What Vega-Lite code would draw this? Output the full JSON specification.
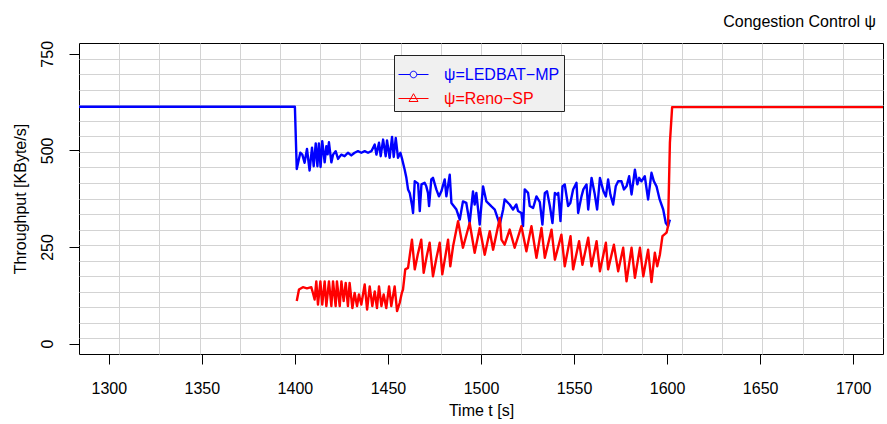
{
  "$schema": "https://vega.github.io/schema/vega-lite/v6.json",
  "width": 804,
  "height": 311,
  "autosize": {"type": "none"},
  "padding": {"left": 79, "top": 43, "right": 4, "bottom": 70},
  "background": "white",
  "config": {
    "view": {"stroke": "black", "strokeWidth": 1},
    "font": "Liberation Sans"
  },
  "title": {"text": "Congestion Control ψ", "anchor": "end", "orient": "top", "offset": -3, "dx": -7, "baseline": "alphabetic", "fontSize": 16, "fontWeight": "normal", "font": "Liberation Sans", "color": "black", "frame": "group"},
  "data": {"values": [
    {"t":1284,"v":613,"s":"ψ=LEDBAT−MP"},{"t":1400,"v":613,"s":"ψ=LEDBAT−MP"},{"t":1401,"v":452,"s":"ψ=LEDBAT−MP"},{"t":1402.9,"v":494,"s":"ψ=LEDBAT−MP"},{"t":1404,"v":489,"s":"ψ=LEDBAT−MP"},{"t":1405.2,"v":468,"s":"ψ=LEDBAT−MP"},{"t":1406.5,"v":504,"s":"ψ=LEDBAT−MP"},{"t":1407.9,"v":448,"s":"ψ=LEDBAT−MP"},{"t":1409.2,"v":507,"s":"ψ=LEDBAT−MP"},{"t":1410.1,"v":459,"s":"ψ=LEDBAT−MP"},{"t":1411.2,"v":518,"s":"ψ=LEDBAT−MP"},{"t":1412.1,"v":459,"s":"ψ=LEDBAT−MP"},{"t":1412.9,"v":518,"s":"ψ=LEDBAT−MP"},{"t":1413.8,"v":457,"s":"ψ=LEDBAT−MP"},{"t":1414.7,"v":524,"s":"ψ=LEDBAT−MP"},{"t":1416,"v":469,"s":"ψ=LEDBAT−MP"},{"t":1416.9,"v":511,"s":"ψ=LEDBAT−MP"},{"t":1417.6,"v":490,"s":"ψ=LEDBAT−MP"},{"t":1418.3,"v":521,"s":"ψ=LEDBAT−MP"},{"t":1419.6,"v":469,"s":"ψ=LEDBAT−MP"},{"t":1420.5,"v":489,"s":"ψ=LEDBAT−MP"},{"t":1421.9,"v":498,"s":"ψ=LEDBAT−MP"},{"t":1423.2,"v":478,"s":"ψ=LEDBAT−MP"},{"t":1424.9,"v":489,"s":"ψ=LEDBAT−MP"},{"t":1426.7,"v":485,"s":"ψ=LEDBAT−MP"},{"t":1428.5,"v":494,"s":"ψ=LEDBAT−MP"},{"t":1430.3,"v":487,"s":"ψ=LEDBAT−MP"},{"t":1432.1,"v":494,"s":"ψ=LEDBAT−MP"},{"t":1433.9,"v":498,"s":"ψ=LEDBAT−MP"},{"t":1435.7,"v":494,"s":"ψ=LEDBAT−MP"},{"t":1437.5,"v":498,"s":"ψ=LEDBAT−MP"},{"t":1439.3,"v":494,"s":"ψ=LEDBAT−MP"},{"t":1441.1,"v":498,"s":"ψ=LEDBAT−MP"},{"t":1442.9,"v":515,"s":"ψ=LEDBAT−MP"},{"t":1443.8,"v":489,"s":"ψ=LEDBAT−MP"},{"t":1445.2,"v":520,"s":"ψ=LEDBAT−MP"},{"t":1446.1,"v":485,"s":"ψ=LEDBAT−MP"},{"t":1447.4,"v":528,"s":"ψ=LEDBAT−MP"},{"t":1448.8,"v":485,"s":"ψ=LEDBAT−MP"},{"t":1449.5,"v":526,"s":"ψ=LEDBAT−MP"},{"t":1450.9,"v":481,"s":"ψ=LEDBAT−MP"},{"t":1452.2,"v":535,"s":"ψ=LEDBAT−MP"},{"t":1453.1,"v":483,"s":"ψ=LEDBAT−MP"},{"t":1454.2,"v":532,"s":"ψ=LEDBAT−MP"},{"t":1455.4,"v":481,"s":"ψ=LEDBAT−MP"},{"t":1456.7,"v":494,"s":"ψ=LEDBAT−MP"},{"t":1457.7,"v":476,"s":"ψ=LEDBAT−MP"},{"t":1459,"v":450,"s":"ψ=LEDBAT−MP"},{"t":1459.9,"v":429,"s":"ψ=LEDBAT−MP"},{"t":1460.8,"v":399,"s":"ψ=LEDBAT−MP"},{"t":1461.7,"v":390,"s":"ψ=LEDBAT−MP"},{"t":1463,"v":356,"s":"ψ=LEDBAT−MP"},{"t":1463.5,"v":338,"s":"ψ=LEDBAT−MP"},{"t":1464.4,"v":420,"s":"ψ=LEDBAT−MP"},{"t":1466.2,"v":414,"s":"ψ=LEDBAT−MP"},{"t":1467.1,"v":343,"s":"ψ=LEDBAT−MP"},{"t":1468,"v":412,"s":"ψ=LEDBAT−MP"},{"t":1469.7,"v":416,"s":"ψ=LEDBAT−MP"},{"t":1470.6,"v":407,"s":"ψ=LEDBAT−MP"},{"t":1471.5,"v":390,"s":"ψ=LEDBAT−MP"},{"t":1472.1,"v":356,"s":"ψ=LEDBAT−MP"},{"t":1473.3,"v":425,"s":"ψ=LEDBAT−MP"},{"t":1474.2,"v":429,"s":"ψ=LEDBAT−MP"},{"t":1476,"v":399,"s":"ψ=LEDBAT−MP"},{"t":1477.4,"v":381,"s":"ψ=LEDBAT−MP"},{"t":1478.7,"v":394,"s":"ψ=LEDBAT−MP"},{"t":1480.5,"v":425,"s":"ψ=LEDBAT−MP"},{"t":1481.4,"v":381,"s":"ψ=LEDBAT−MP"},{"t":1483.2,"v":437,"s":"ψ=LEDBAT−MP"},{"t":1484.1,"v":364,"s":"ψ=LEDBAT−MP"},{"t":1486.8,"v":347,"s":"ψ=LEDBAT−MP"},{"t":1488.6,"v":321,"s":"ψ=LEDBAT−MP"},{"t":1490.3,"v":368,"s":"ψ=LEDBAT−MP"},{"t":1492.1,"v":364,"s":"ψ=LEDBAT−MP"},{"t":1493.9,"v":312,"s":"ψ=LEDBAT−MP"},{"t":1495.7,"v":394,"s":"ψ=LEDBAT−MP"},{"t":1496.6,"v":360,"s":"ψ=LEDBAT−MP"},{"t":1497.5,"v":390,"s":"ψ=LEDBAT−MP"},{"t":1499.3,"v":308,"s":"ψ=LEDBAT−MP"},{"t":1501.1,"v":407,"s":"ψ=LEDBAT−MP"},{"t":1502.9,"v":368,"s":"ψ=LEDBAT−MP"},{"t":1505.6,"v":355,"s":"ψ=LEDBAT−MP"},{"t":1507.4,"v":347,"s":"ψ=LEDBAT−MP"},{"t":1509.2,"v":321,"s":"ψ=LEDBAT−MP"},{"t":1510.1,"v":308,"s":"ψ=LEDBAT−MP"},{"t":1511.9,"v":347,"s":"ψ=LEDBAT−MP"},{"t":1512.7,"v":373,"s":"ψ=LEDBAT−MP"},{"t":1515.4,"v":360,"s":"ψ=LEDBAT−MP"},{"t":1517.2,"v":347,"s":"ψ=LEDBAT−MP"},{"t":1519,"v":360,"s":"ψ=LEDBAT−MP"},{"t":1519.9,"v":343,"s":"ψ=LEDBAT−MP"},{"t":1521.7,"v":338,"s":"ψ=LEDBAT−MP"},{"t":1522.6,"v":304,"s":"ψ=LEDBAT−MP"},{"t":1523.5,"v":399,"s":"ψ=LEDBAT−MP"},{"t":1525.3,"v":390,"s":"ψ=LEDBAT−MP"},{"t":1526.2,"v":356,"s":"ψ=LEDBAT−MP"},{"t":1528,"v":351,"s":"ψ=LEDBAT−MP"},{"t":1529.8,"v":381,"s":"ψ=LEDBAT−MP"},{"t":1531.6,"v":366,"s":"ψ=LEDBAT−MP"},{"t":1533,"v":308,"s":"ψ=LEDBAT−MP"},{"t":1534.3,"v":390,"s":"ψ=LEDBAT−MP"},{"t":1535.5,"v":394,"s":"ψ=LEDBAT−MP"},{"t":1537,"v":356,"s":"ψ=LEDBAT−MP"},{"t":1538.4,"v":312,"s":"ψ=LEDBAT−MP"},{"t":1539.7,"v":390,"s":"ψ=LEDBAT−MP"},{"t":1541,"v":385,"s":"ψ=LEDBAT−MP"},{"t":1541.5,"v":390,"s":"ψ=LEDBAT−MP"},{"t":1542.7,"v":317,"s":"ψ=LEDBAT−MP"},{"t":1543.8,"v":407,"s":"ψ=LEDBAT−MP"},{"t":1545,"v":412,"s":"ψ=LEDBAT−MP"},{"t":1546.8,"v":356,"s":"ψ=LEDBAT−MP"},{"t":1548,"v":364,"s":"ψ=LEDBAT−MP"},{"t":1549.5,"v":399,"s":"ψ=LEDBAT−MP"},{"t":1551.3,"v":416,"s":"ψ=LEDBAT−MP"},{"t":1552.2,"v":338,"s":"ψ=LEDBAT−MP"},{"t":1554,"v":381,"s":"ψ=LEDBAT−MP"},{"t":1555,"v":399,"s":"ψ=LEDBAT−MP"},{"t":1556.7,"v":412,"s":"ψ=LEDBAT−MP"},{"t":1557.6,"v":347,"s":"ψ=LEDBAT−MP"},{"t":1559.4,"v":429,"s":"ψ=LEDBAT−MP"},{"t":1561,"v":390,"s":"ψ=LEDBAT−MP"},{"t":1562.4,"v":347,"s":"ψ=LEDBAT−MP"},{"t":1563.9,"v":429,"s":"ψ=LEDBAT−MP"},{"t":1565.8,"v":394,"s":"ψ=LEDBAT−MP"},{"t":1567.1,"v":381,"s":"ψ=LEDBAT−MP"},{"t":1568.3,"v":425,"s":"ψ=LEDBAT−MP"},{"t":1569.5,"v":386,"s":"ψ=LEDBAT−MP"},{"t":1571,"v":360,"s":"ψ=LEDBAT−MP"},{"t":1572.4,"v":407,"s":"ψ=LEDBAT−MP"},{"t":1573.7,"v":420,"s":"ψ=LEDBAT−MP"},{"t":1575.5,"v":420,"s":"ψ=LEDBAT−MP"},{"t":1576.8,"v":399,"s":"ψ=LEDBAT−MP"},{"t":1578.2,"v":407,"s":"ψ=LEDBAT−MP"},{"t":1579.6,"v":433,"s":"ψ=LEDBAT−MP"},{"t":1580.9,"v":386,"s":"ψ=LEDBAT−MP"},{"t":1582.7,"v":450,"s":"ψ=LEDBAT−MP"},{"t":1584,"v":412,"s":"ψ=LEDBAT−MP"},{"t":1585,"v":429,"s":"ψ=LEDBAT−MP"},{"t":1586.2,"v":420,"s":"ψ=LEDBAT−MP"},{"t":1588,"v":433,"s":"ψ=LEDBAT−MP"},{"t":1589.8,"v":373,"s":"ψ=LEDBAT−MP"},{"t":1591.6,"v":442,"s":"ψ=LEDBAT−MP"},{"t":1592.9,"v":420,"s":"ψ=LEDBAT−MP"},{"t":1594.3,"v":407,"s":"ψ=LEDBAT−MP"},{"t":1596,"v":373,"s":"ψ=LEDBAT−MP"},{"t":1597.9,"v":347,"s":"ψ=LEDBAT−MP"},{"t":1599.3,"v":312,"s":"ψ=LEDBAT−MP"},{"t":1600.5,"v":304,"s":"ψ=LEDBAT−MP"},{"t":1601.5,"v":321,"s":"ψ=LEDBAT−MP"},
    {"t":1401,"v":110,"s":"ψ=Reno−SP"},{"t":1402.2,"v":140,"s":"ψ=Reno−SP"},{"t":1404.3,"v":146,"s":"ψ=Reno−SP"},{"t":1406.5,"v":143,"s":"ψ=Reno−SP"},{"t":1408.8,"v":146,"s":"ψ=Reno−SP"},{"t":1409.7,"v":131,"s":"ψ=Reno−SP"},{"t":1410.6,"v":114,"s":"ψ=Reno−SP"},{"t":1411.5,"v":161,"s":"ψ=Reno−SP"},{"t":1412.4,"v":101,"s":"ψ=Reno−SP"},{"t":1413.7,"v":161,"s":"ψ=Reno−SP"},{"t":1414.7,"v":101,"s":"ψ=Reno−SP"},{"t":1416,"v":161,"s":"ψ=Reno−SP"},{"t":1416.9,"v":97,"s":"ψ=Reno−SP"},{"t":1418.3,"v":161,"s":"ψ=Reno−SP"},{"t":1419.6,"v":97,"s":"ψ=Reno−SP"},{"t":1420.5,"v":161,"s":"ψ=Reno−SP"},{"t":1421.9,"v":97,"s":"ψ=Reno−SP"},{"t":1422.6,"v":161,"s":"ψ=Reno−SP"},{"t":1424.1,"v":97,"s":"ψ=Reno−SP"},{"t":1425,"v":161,"s":"ψ=Reno−SP"},{"t":1426.2,"v":110,"s":"ψ=Reno−SP"},{"t":1427.3,"v":157,"s":"ψ=Reno−SP"},{"t":1428.5,"v":97,"s":"ψ=Reno−SP"},{"t":1429.4,"v":157,"s":"ψ=Reno−SP"},{"t":1430.9,"v":92,"s":"ψ=Reno−SP"},{"t":1432.1,"v":131,"s":"ψ=Reno−SP"},{"t":1433.4,"v":97,"s":"ψ=Reno−SP"},{"t":1434.4,"v":127,"s":"ψ=Reno−SP"},{"t":1435.7,"v":101,"s":"ψ=Reno−SP"},{"t":1437.5,"v":153,"s":"ψ=Reno−SP"},{"t":1438.8,"v":88,"s":"ψ=Reno−SP"},{"t":1440.2,"v":148,"s":"ψ=Reno−SP"},{"t":1441.6,"v":97,"s":"ψ=Reno−SP"},{"t":1442.9,"v":135,"s":"ψ=Reno−SP"},{"t":1444.1,"v":92,"s":"ψ=Reno−SP"},{"t":1445.2,"v":148,"s":"ψ=Reno−SP"},{"t":1446.5,"v":97,"s":"ψ=Reno−SP"},{"t":1447.7,"v":127,"s":"ψ=Reno−SP"},{"t":1449.1,"v":92,"s":"ψ=Reno−SP"},{"t":1450.6,"v":148,"s":"ψ=Reno−SP"},{"t":1451.8,"v":97,"s":"ψ=Reno−SP"},{"t":1453.6,"v":148,"s":"ψ=Reno−SP"},{"t":1454.9,"v":84,"s":"ψ=Reno−SP"},{"t":1456.3,"v":105,"s":"ψ=Reno−SP"},{"t":1457.5,"v":132,"s":"ψ=Reno−SP"},{"t":1458.1,"v":140,"s":"ψ=Reno−SP"},{"t":1459.3,"v":192,"s":"ψ=Reno−SP"},{"t":1460.8,"v":196,"s":"ψ=Reno−SP"},{"t":1462.9,"v":269,"s":"ψ=Reno−SP"},{"t":1464.4,"v":192,"s":"ψ=Reno−SP"},{"t":1466,"v":230,"s":"ψ=Reno−SP"},{"t":1467.9,"v":269,"s":"ψ=Reno−SP"},{"t":1469.2,"v":183,"s":"ψ=Reno−SP"},{"t":1470.8,"v":225,"s":"ψ=Reno−SP"},{"t":1472.4,"v":261,"s":"ψ=Reno−SP"},{"t":1474.2,"v":174,"s":"ψ=Reno−SP"},{"t":1476,"v":220,"s":"ψ=Reno−SP"},{"t":1477.8,"v":261,"s":"ψ=Reno−SP"},{"t":1479.2,"v":179,"s":"ψ=Reno−SP"},{"t":1480.8,"v":225,"s":"ψ=Reno−SP"},{"t":1482.3,"v":269,"s":"ψ=Reno−SP"},{"t":1483.5,"v":200,"s":"ψ=Reno−SP"},{"t":1485,"v":252,"s":"ψ=Reno−SP"},{"t":1487.7,"v":317,"s":"ψ=Reno−SP"},{"t":1490.3,"v":248,"s":"ψ=Reno−SP"},{"t":1493.9,"v":312,"s":"ψ=Reno−SP"},{"t":1496.6,"v":235,"s":"ψ=Reno−SP"},{"t":1499.3,"v":299,"s":"ψ=Reno−SP"},{"t":1502,"v":230,"s":"ψ=Reno−SP"},{"t":1504.7,"v":291,"s":"ψ=Reno−SP"},{"t":1506.5,"v":243,"s":"ψ=Reno−SP"},{"t":1510.1,"v":325,"s":"ψ=Reno−SP"},{"t":1511,"v":269,"s":"ψ=Reno−SP"},{"t":1512.7,"v":256,"s":"ψ=Reno−SP"},{"t":1515.4,"v":295,"s":"ψ=Reno−SP"},{"t":1518.1,"v":248,"s":"ψ=Reno−SP"},{"t":1521.7,"v":304,"s":"ψ=Reno−SP"},{"t":1524.4,"v":239,"s":"ψ=Reno−SP"},{"t":1527.1,"v":304,"s":"ψ=Reno−SP"},{"t":1529.8,"v":222,"s":"ψ=Reno−SP"},{"t":1532.5,"v":299,"s":"ψ=Reno−SP"},{"t":1534.3,"v":222,"s":"ψ=Reno−SP"},{"t":1537.9,"v":295,"s":"ψ=Reno−SP"},{"t":1539.7,"v":217,"s":"ψ=Reno−SP"},{"t":1543.2,"v":282,"s":"ψ=Reno−SP"},{"t":1545,"v":200,"s":"ψ=Reno−SP"},{"t":1548.1,"v":278,"s":"ψ=Reno−SP"},{"t":1549.5,"v":192,"s":"ψ=Reno−SP"},{"t":1552.7,"v":265,"s":"ψ=Reno−SP"},{"t":1554.5,"v":204,"s":"ψ=Reno−SP"},{"t":1557.6,"v":274,"s":"ψ=Reno−SP"},{"t":1559.4,"v":200,"s":"ψ=Reno−SP"},{"t":1562.1,"v":265,"s":"ψ=Reno−SP"},{"t":1563.9,"v":187,"s":"ψ=Reno−SP"},{"t":1567.1,"v":261,"s":"ψ=Reno−SP"},{"t":1568.3,"v":192,"s":"ψ=Reno−SP"},{"t":1571.4,"v":256,"s":"ψ=Reno−SP"},{"t":1573.7,"v":187,"s":"ψ=Reno−SP"},{"t":1576.4,"v":248,"s":"ψ=Reno−SP"},{"t":1578.2,"v":161,"s":"ψ=Reno−SP"},{"t":1580.9,"v":248,"s":"ψ=Reno−SP"},{"t":1582.7,"v":170,"s":"ψ=Reno−SP"},{"t":1585.4,"v":248,"s":"ψ=Reno−SP"},{"t":1587.2,"v":174,"s":"ψ=Reno−SP"},{"t":1589.8,"v":243,"s":"ψ=Reno−SP"},{"t":1591.6,"v":159,"s":"ψ=Reno−SP"},{"t":1593.4,"v":235,"s":"ψ=Reno−SP"},{"t":1594.7,"v":200,"s":"ψ=Reno−SP"},{"t":1596.1,"v":230,"s":"ψ=Reno−SP"},{"t":1597.5,"v":278,"s":"ψ=Reno−SP"},{"t":1599.7,"v":287,"s":"ψ=Reno−SP"},{"t":1600.5,"v":304,"s":"ψ=Reno−SP"},{"t":1601.5,"v":520,"s":"ψ=Reno−SP"},{"t":1602.7,"v":612,"s":"ψ=Reno−SP"},{"t":1716,"v":612,"s":"ψ=Reno−SP"}
  ]},
  "resolve": {"axis": {"x": "independent", "y": "independent"}},
  "layer": [
    {
      "mark": {"type": "line", "opacity": 0, "clip": true},
      "encoding": {
        "x": {"field": "t", "type": "quantitative", "scale": {"domain": [1284, 1716], "nice": false, "zero": false},
          "axis": {"orient": "top", "values": [1305.6,1327.2,1348.8,1370.4,1392,1413.6,1435.2,1456.8,1478.4,1500,1521.6,1543.2,1564.8,1586.4,1608,1629.6,1651.2,1672.8,1694.4], "grid": true, "gridColor": "#d3d3d3", "gridWidth": 1, "ticks": false, "labels": false, "domain": false, "title": null}},
        "y": {"field": "v", "type": "quantitative", "scale": {"domain": [-27, 778], "nice": false, "zero": false},
          "axis": {"orient": "right", "values": [13.25,53.5,93.75,134,174.25,214.5,254.75,295,335.25,375.5,415.75,456,496.25,536.5,576.75,617,657.25,697.5,737.75], "grid": true, "gridColor": "#d3d3d3", "gridWidth": 1, "ticks": false, "labels": false, "domain": false, "title": null}},
        "detail": {"field": "s", "type": "nominal"}
      }
    },
    {
      "mark": {"type": "line", "strokeWidth": 2.4, "strokeJoin": "round", "clip": true},
      "encoding": {
        "x": {"field": "t", "type": "quantitative", "scale": {"domain": [1284, 1716], "nice": false, "zero": false},
          "axis": {"orient": "bottom", "values": [1300,1350,1400,1450,1500,1550,1600,1650,1700], "format": "d", "grid": false, "domain": false, "tickSize": 10, "tickColor": "black", "tickWidth": 1, "labelFontSize": 16, "labelFont": "Liberation Sans", "labelColor": "black", "labelBaseline": "alphabetic", "labelPadding": 29, "labelFlush": false, "labelOverlap": false, "title": "Time t [s]", "titleFontSize": 16, "titleFont": "Liberation Sans", "titleFontWeight": "normal", "titleColor": "black", "titleBaseline": "alphabetic", "titleY": 61}},
        "y": {"field": "v", "type": "quantitative", "scale": {"domain": [-27, 778], "nice": false, "zero": false},
          "axis": {"orient": "left", "values": [0,250,500,750], "format": "d", "grid": false, "domain": false, "tickSize": 10, "tickColor": "black", "tickWidth": 1, "labelFontSize": 16, "labelFont": "Liberation Sans", "labelColor": "black", "labelAngle": 270, "labelAlign": "center", "labelBaseline": "alphabetic", "labelPadding": 17, "labelFlush": false, "labelOverlap": false, "title": "Throughput [KByte/s]", "titleFontSize": 16, "titleFont": "Liberation Sans", "titleFontWeight": "normal", "titleColor": "black", "titleAngle": 270, "titleAlign": "center", "titleBaseline": "alphabetic", "titleX": -54, "titleY": 155.5}},
        "color": {"field": "s", "type": "nominal", "scale": {"domain": ["ψ=LEDBAT−MP", "ψ=Reno−SP"], "range": ["#0000ff", "#ff0000"]},
          "legend": {"orient": "none", "legendX": 315, "legendY": 12, "title": null, "fillColor": "#f0f0f0", "strokeColor": "#222222", "padding": 4, "labelFontSize": 16, "labelFont": "Liberation Sans", "symbolSize": 900, "symbolStrokeWidth": 1, "rowPadding": -16.6, "labelOffset": 15, "labelLimit": 300,
            "encode": {
              "symbols": {"update": {"fill": {"value": "transparent"}, "strokeWidth": {"value": 1}, "shape": {"signal": "datum.value == 'ψ=LEDBAT−MP' ? 'M-1,0H-0.22M0.22,0H1M0.22,0A0.22,0.22,0,1,1,-0.22,0A0.22,0.22,0,1,1,0.22,0' : 'M-1,0H1M0,-0.32L0.3,0.2L-0.3,0.2Z'"}}},
              "labels": {"update": {"fill": {"signal": "datum.value == 'ψ=LEDBAT−MP' ? '#0000ff' : '#ff0000'"}}}
            }}}
      }
    }
  ]
}
